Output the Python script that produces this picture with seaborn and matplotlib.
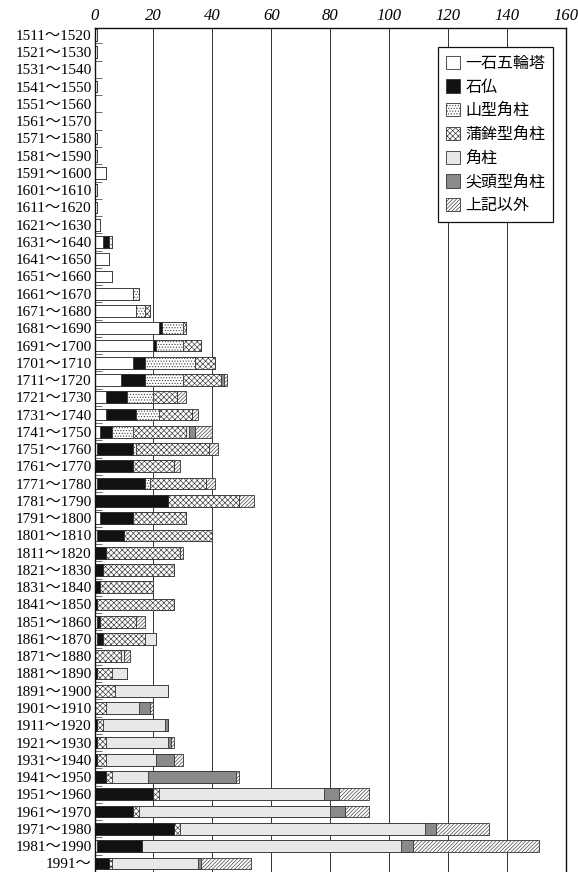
import numpy as np
import pandas as pd
import matplotlib
matplotlib.use("Agg")
import matplotlib.pyplot as plt
import seaborn as sns
from matplotlib.patches import Patch

# 年代区分
periods = [f"{s}～{s + 9}" for s in range(1511, 1991, 10)] + ["1991～"]

# 各形式の基数
gorinto = [1, 1, 0, 1, 0, 0, 1, 1, 4, 1, 1, 2, 3, 5, 6, 13, 14, 22, 20, 13, 9, 4, 4, 2, 1, 0, 1,
           0, 2, 1, 0, 0, 0, 0, 1, 1, 0, 0, 0, 0, 0, 0, 0, 0, 0, 0, 0, 1, 0]
sekibutsu = [0, 0, 0, 0, 0, 0, 0, 0, 0, 0, 0, 0, 2, 0, 0, 0, 0, 1, 1, 4, 8, 7, 10, 4, 12, 13, 16,
             25, 11, 9, 4, 3, 2, 1, 1, 2, 0, 1, 0, 0, 1, 1, 1, 4, 20, 13, 27, 15, 5]
yamagata = [0, 0, 0, 0, 0, 0, 0, 0, 0, 0, 0, 0, 1, 0, 0, 2, 3, 7, 9, 17, 13, 9, 8, 7, 1, 0, 2,
            0, 0, 0, 0, 0, 0, 0, 0, 0, 0, 0, 0, 0, 0, 0, 0, 0, 0, 0, 0, 0, 0]
kamaboko = [0, 0, 0, 0, 0, 0, 0, 0, 0, 0, 0, 0, 0, 0, 0, 0, 2, 1, 6, 7, 13, 8, 11, 18, 25, 14, 19,
            24, 18, 30, 25, 24, 18, 26, 12, 14, 9, 5, 7, 4, 2, 3, 3, 2, 2, 2, 2, 0, 1]
kakuchu = [0, 0, 0, 0, 0, 0, 0, 0, 0, 0, 0, 0, 0, 0, 0, 0, 0, 0, 0, 0, 0, 0, 0, 1, 0, 0, 0,
           0, 0, 0, 0, 0, 0, 0, 0, 4, 1, 5, 18, 11, 21, 21, 17, 12, 56, 65, 83, 88, 29]
sentou = [0, 0, 0, 0, 0, 0, 0, 0, 0, 0, 0, 0, 0, 0, 0, 0, 0, 0, 0, 0, 1, 0, 0, 2, 0, 0, 0,
          0, 0, 0, 0, 0, 0, 0, 0, 0, 0, 0, 0, 4, 1, 1, 6, 30, 5, 5, 4, 4, 1]
sonota = [0, 0, 0, 0, 0, 0, 0, 0, 0, 0, 0, 0, 0, 0, 0, 0, 0, 0, 0, 0, 1, 3, 2, 6, 3, 2, 3,
          5, 0, 0, 1, 0, 0, 0, 3, 0, 2, 0, 0, 1, 0, 1, 3, 1, 10, 8, 18, 43, 17]

series_names = ["一石五輪塔", "石仏", "山型角柱", "蒲鉾型角柱", "角柱", "尖頭型角柱", "上記以外"]
series_values = [gorinto, sekibutsu, yamagata, kamaboko, kakuchu, sentou, sonota]
face_colors = ["white", "#111111", "white", "white", "#e8e8e8", "#8a8a8a", "white"]
hatches = [None, None, "......", "xxxxxx", None, None, "/////////"]

plt.rcParams["hatch.linewidth"] = 0.45
plt.rcParams["hatch.color"] = "#333333"

df = pd.DataFrame(dict(zip(series_names, series_values)), index=periods)
cum = df.cumsum(axis=1)

fig = plt.figure(figsize=(5.78, 8.72), dpi=100)
ax = fig.add_axes([0.1635, 0.0, 0.8157, 0.968])

# 累積値を後ろの形式から順に重ねて描く
for i in range(len(series_names) - 1, -1, -1):
    sns.barplot(x=cum[series_names[i]].values, y=periods, orient="h", ax=ax,
                color=face_colors[i], edgecolor="#333333", linewidth=0.6,
                hatch=hatches[i], width=0.68, saturation=1)

ax.set_xlim(0, 160)
ax.set_ylim(len(periods) - 1 + 0.35, -0.4)
ax.xaxis.tick_top()
ax.set_xticks(range(0, 161, 20))
ax.set_xticklabels([str(v) for v in range(0, 161, 20)],
                   family="Liberation Serif", style="italic", fontsize=12)
ax.tick_params(axis="x", length=0, pad=3)
ax.set_yticks(range(len(periods)))
ax.set_yticklabels(periods, family=["Liberation Serif", "Noto Sans CJK JP"], fontsize=11)
ax.tick_params(axis="y", length=0, pad=2)
ax.set_yticks(np.arange(len(periods)) + 0.5, minor=True)
ax.tick_params(axis="y", which="minor", direction="in", length=5, width=0.6, color="#555555")
ax.grid(axis="x", color="#333333", linewidth=0.7)
ax.set_axisbelow(True)
ax.set_xlabel("")
ax.set_ylabel("")
for side in ["left", "top", "right"]:
    ax.spines[side].set_color("#111111")
    ax.spines[side].set_linewidth(1.0)
ax.spines["bottom"].set_visible(False)

handles = [Patch(facecolor=face_colors[i], edgecolor="#333333", linewidth=0.6,
                 hatch=hatches[i], label=series_names[i]) for i in range(len(series_names))]
leg = ax.legend(handles=handles, loc="upper left", bbox_to_anchor=(0.7285, 0.9775),
                borderaxespad=0,
                prop={"family": "Noto Sans CJK JP", "size": 11.5}, frameon=True,
                fancybox=False, edgecolor="#111111", framealpha=1,
                handlelength=0.9, handleheight=0.9, handletextpad=0.3,
                labelspacing=0.42, borderpad=0.5)
leg.get_frame().set_linewidth(0.9)

fig.savefig("out.png", dpi=100)
